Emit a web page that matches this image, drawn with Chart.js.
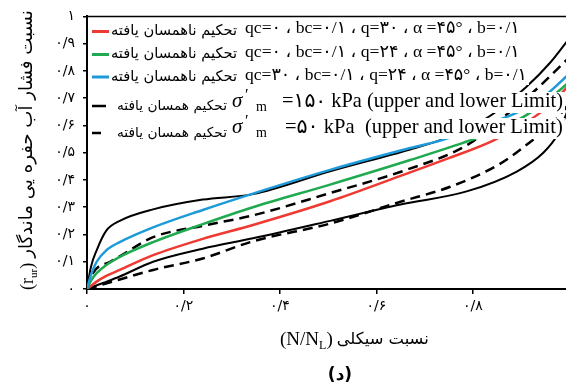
<!DOCTYPE html>
<html>
<head>
<meta charset="utf-8">
<script src="https://cdn.jsdelivr.net/npm/chart.js@4.4.0/dist/chart.umd.min.js"></script>
<style>
  html, body { margin: 0; padding: 0; background: #fff; }
</style>
</head>
<body>
<canvas id="chart" width="566" height="385"></canvas>
<script>
// axis ticks (Persian digits, "/" as decimal mark)
const xTicks = [0, 0.2, 0.4, 0.6, 0.8];
const xTickLabels = ['۰', '۰/۲', '۰/۴', '۰/۶', '۰/۸'];
const yTicks = [0, 0.1, 0.2, 0.3, 0.4, 0.5, 0.6, 0.7, 0.8, 0.9, 1];
const yTickLabels = ['۰', '۰/۱', '۰/۲', '۰/۳', '۰/۴', '۰/۵', '۰/۶', '۰/۷', '۰/۸', '۰/۹', '۱'];

// anisotropic consolidation, qc=0, bc=0.1, q=30 (red)
const redX = [0, 0.02, 0.04, 0.068, 0.137, 0.24, 0.344, 0.504, 0.65, 0.75, 0.843, 0.94, 0.988, 1.0];
const redY = [0, 0.027, 0.048, 0.07, 0.124, 0.184, 0.235, 0.322, 0.415, 0.48, 0.545, 0.647, 0.726, 0.75];

// qc=0, bc=0.1, q=24 (green)
const greenX = [0, 0.008, 0.02, 0.04, 0.068, 0.137, 0.24, 0.344, 0.504, 0.67, 0.794, 0.86, 0.919, 0.981, 1.0];
const greenY = [0, 0.03, 0.058, 0.088, 0.118, 0.172, 0.238, 0.30, 0.383, 0.473, 0.545, 0.59, 0.647, 0.731, 0.76];

// qc=30, bc=0.1, q=24 (blue)
const blueX = [0, 0.008, 0.02, 0.04, 0.068, 0.137, 0.24, 0.344, 0.504, 0.67, 0.739, 0.82, 0.891, 0.95, 1.0];
const blueY = [0, 0.05, 0.10, 0.142, 0.172, 0.226, 0.29, 0.35, 0.437, 0.517, 0.548, 0.6, 0.647, 0.71, 0.79];

// isotropic, 150 kPa upper / lower limit (solid black)
const iso150UpX = [0, 0.008, 0.02, 0.04, 0.068, 0.137, 0.24, 0.344, 0.504, 0.67, 0.735, 0.79, 0.84, 0.91, 0.96, 1.0];
const iso150UpY = [0, 0.08, 0.142, 0.214, 0.25, 0.292, 0.328, 0.348, 0.432, 0.512, 0.548, 0.59, 0.64, 0.74, 0.83, 0.92];
const iso150LowX = [0, 0.033, 0.068, 0.137, 0.24, 0.344, 0.504, 0.65, 0.787, 0.891, 0.946, 0.975, 1.0];
const iso150LowY = [0, 0.022, 0.046, 0.10, 0.148, 0.186, 0.25, 0.31, 0.358, 0.431, 0.5, 0.565, 0.67];

// isotropic, 50 kPa upper / lower limit (dashed black)
const iso50UpX = [0, 0.013, 0.048, 0.068, 0.137, 0.24, 0.344, 0.504, 0.662, 0.787, 0.87, 0.93, 1.0];
const iso50UpY = [0, 0.06, 0.10, 0.12, 0.19, 0.232, 0.27, 0.352, 0.437, 0.527, 0.64, 0.73, 0.85];
const iso50LowX = [0, 0.068, 0.137, 0.24, 0.344, 0.504, 0.65, 0.753, 0.857, 0.912, 0.96, 1.0];
const iso50LowY = [0, 0.035, 0.07, 0.112, 0.175, 0.24, 0.32, 0.375, 0.46, 0.53, 0.6, 0.68];

// legend texts
const legendFa = ['تحکیم ناهمسان یافته', 'تحکیم ناهمسان یافته', 'تحکیم ناهمسان یافته', 'تحکیم همسان یافته', 'تحکیم همسان یافته'];
const legendParams = [
  'qc=۰ ، bc=۰/۱ ، q=۳۰ ، α =۴۵° ، b=۰/۱',
  'qc=۰ ، bc=۰/۱ ، q=۲۴ ، α =۴۵° ، b=۰/۱',
  'qc=۳۰ ، bc=۰/۱ ، q=۲۴ ، α =۴۵° ، b=۰/۱',
  '=۱۵۰ kPa (upper and lower Limit)',
  '=۵۰ kPa  (upper and lower Limit)'
];

const RED = '#ee3a33', GREEN = '#1faa4f', BLUE = '#1d9ad8', BLACK = '#000';
const SERIF = "'Liberation Serif', 'DejaVu Sans'";
const FA = "'DejaVu Sans'";

const pts = (xs, ys) => xs.map((x, i) => ({ x: x, y: ys[i] }));

function line(data, color, width, dash, order) {
  return {
    data: data, borderColor: color, borderWidth: width, borderDash: dash || [],
    pointRadius: 0, fill: false, cubicInterpolationMode: 'monotone', order: order, showLine: true
  };
}

// font size that makes a phrase span the target width
function fitFont(ctx, text, family, target) {
  ctx.font = '20px ' + family;
  return 20 * target / ctx.measureText(text).width;
}

function whiteBox(ctx, x, yTop, w, h) {
  ctx.fillStyle = '#fff';
  ctx.fillRect(x, yTop, w, h);
}

const textPlugin = {
  id: 'texts',
  afterDraw(chart) {
    const ctx = chart.ctx;
    const a = chart.chartArea;
    ctx.save();
    // top frame line
    ctx.strokeStyle = '#000';
    ctx.lineWidth = 1.5;
    ctx.beginPath();
    ctx.moveTo(a.left, a.top);
    ctx.lineTo(a.right, a.top);
    ctx.stroke();

    ctx.textBaseline = 'alphabetic';
    ctx.textAlign = 'left';

    // legend
    const colors = [RED, GREEN, BLUE, BLACK, BLACK];
    const sampleY = [31.5, 54.5, 77, 106, 133];
    const baseY = [33, 57, 80, 107, 133];
    for (let i = 0; i < 5; i++) {
      const faTarget = i < 3 ? 126 : 110;
      const faX = i < 3 ? 111 : 117;
      const size = fitFont(ctx, legendFa[i], FA, faTarget);
      ctx.font = size.toFixed(2) + 'px ' + FA;
      whiteBox(ctx, faX - 1, sampleY[i] - 11, faTarget + 2, 20);
      ctx.fillStyle = '#000';
      ctx.textBaseline = 'middle';
      ctx.fillText(legendFa[i], faX, sampleY[i]);
      ctx.textBaseline = 'alphabetic';

      // sample line
      ctx.strokeStyle = colors[i];
      ctx.lineWidth = i < 3 ? 3 : 2.5;
      ctx.beginPath();
      ctx.moveTo(92, sampleY[i]);
      ctx.lineTo(i === 4 ? 101 : (i === 3 ? 106 : 109), sampleY[i]);
      ctx.stroke();

      if (i < 3) {
        const fs = Math.min(20, fitFont(ctx, legendParams[i], SERIF, i === 2 ? 282 : 275));
        ctx.font = fs.toFixed(2) + 'px ' + SERIF;
        const w = ctx.measureText(legendParams[i]).width;
        whiteBox(ctx, 244, baseY[i] - 15, w + 3, 20);
        ctx.fillStyle = '#000';
        ctx.fillText(legendParams[i], 245, baseY[i]);
      } else {
        const x0 = i === 3 ? 282 : 285;
        const fs = fitFont(ctx, legendParams[i], SERIF, 563 - x0);
        ctx.font = fs.toFixed(2) + 'px ' + SERIF;
        const w = ctx.measureText(legendParams[i]).width;
        whiteBox(ctx, 231, baseY[i] - 15, x0 - 231 + w + 2, 21);
        ctx.fillStyle = '#000';
        ctx.font = 'italic 21px ' + SERIF;
        ctx.fillText('σ', 232, baseY[i]);
        ctx.font = '16px ' + SERIF;
        ctx.fillText('′', 245, baseY[i] - 7);
        ctx.font = '14px ' + SERIF;
        ctx.fillText('m', 256, baseY[i] + 4);
        ctx.font = fs.toFixed(2) + 'px ' + SERIF;
        ctx.fillText(legendParams[i], x0, baseY[i]);
      }
    }

    // x axis title: "نسبت سیکلی (N/N_L)"
    let x = 280;
    const xb = 345;
    ctx.font = '19px ' + SERIF;
    ctx.fillText('(N/N', x, xb);
    x += ctx.measureText('(N/N').width;
    ctx.font = '12px ' + SERIF;
    ctx.fillText('L', x, xb + 4);
    x += ctx.measureText('L').width;
    ctx.font = '19px ' + SERIF;
    ctx.fillText(')', x, xb);
    x += ctx.measureText(')').width + 4;
    const xt = 'نسبت سیکلی';
    ctx.font = fitFont(ctx, xt, FA, 92).toFixed(2) + 'px ' + FA;
    ctx.fillText(xt, x, xb - 1);

    // caption
    ctx.font = 'bold 17px ' + FA;
    ctx.textAlign = 'center';
    ctx.fillText('(د)', 340, 380);
    ctx.textAlign = 'left';

    // y axis title, rotated
    ctx.translate(27, 290);
    ctx.rotate(-Math.PI / 2);
    let u = 0;
    ctx.font = '18px ' + SERIF;
    ctx.fillText('(r', u, 6);
    u += ctx.measureText('(r').width;
    ctx.font = '11px ' + SERIF;
    ctx.fillText('ur', u, 10);
    u += ctx.measureText('ur').width;
    ctx.font = '18px ' + SERIF;
    ctx.fillText(')', u, 6);
    u += ctx.measureText(')').width + 5;
    const yt = 'نسبت فشار آب حفره یی ماندگار';
    ctx.font = fitFont(ctx, yt, FA, 280 - u).toFixed(2) + 'px ' + FA;
    ctx.fillText(yt, u, 5);
    ctx.restore();
  }
};

new Chart(document.getElementById('chart'), {
  type: 'scatter',
  data: {
    datasets: [
      line(pts(blueX, blueY), BLUE, 2.5, null, 1),
      line(pts(greenX, greenY), GREEN, 2.5, null, 2),
      line(pts(redX, redY), RED, 2.5, null, 3),
      line(pts(iso150UpX, iso150UpY), BLACK, 2, null, 4),
      line(pts(iso150LowX, iso150LowY), BLACK, 2, null, 5),
      line(pts(iso50UpX, iso50UpY), BLACK, 2.5, [10, 6], 6),
      line(pts(iso50LowX, iso50LowY), BLACK, 2.5, [10, 6], 7)
    ]
  },
  options: {
    responsive: false,
    animation: false,
    layout: { padding: { top: 12, right: 0, bottom: 0, left: 0 } },
    plugins: { legend: { display: false }, tooltip: { enabled: false } },
    scales: {
      x: {
        type: 'linear', min: 0, max: 0.993,
        afterBuildTicks: s => { s.ticks = xTicks.map(v => ({ value: v })); },
        afterFit: s => { s.height = 96; },
        ticks: {
          callback: (v, i) => xTickLabels[i], color: '#000', padding: 4,
          maxRotation: 0, autoSkip: false, font: { family: 'DejaVu Sans', size: 14 }
        },
        grid: { drawOnChartArea: false, tickLength: 5, color: '#000', lineWidth: 1.5 },
        border: { color: '#000', width: 2 }
      },
      y: {
        type: 'linear', min: 0, max: 1,
        afterBuildTicks: s => { s.ticks = yTicks.map(v => ({ value: v })); },
        afterFit: s => { s.width = 87; },
        ticks: {
          callback: (v, i) => yTickLabels[i], color: '#000', padding: 8,
          autoSkip: false, font: { family: 'DejaVu Sans', size: 14 }
        },
        grid: { drawOnChartArea: false, tickLength: 4, color: '#000', lineWidth: 1.5 },
        border: { color: '#000', width: 2 }
      }
    }
  },
  plugins: [textPlugin]
});
</script>
</body>
</html>
